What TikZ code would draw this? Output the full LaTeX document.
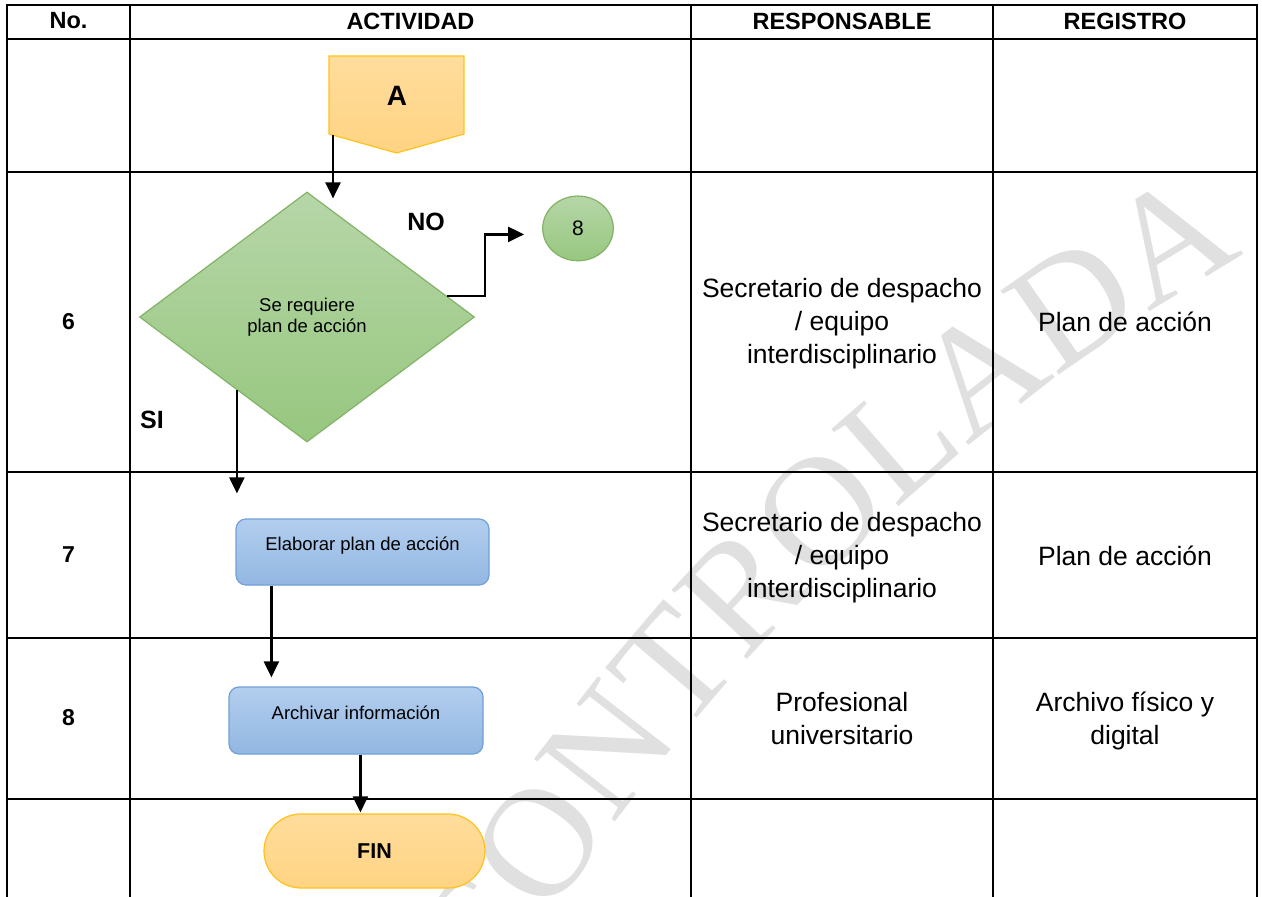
\documentclass[tikz,border=0pt]{standalone}
\usepackage{fontspec}
\setmainfont{Liberation Sans}
\newfontfamily\wmfont{Liberation Serif}
\usetikzlibrary{arrows.meta,shapes.geometric,calc,decorations.text}
\definecolor{orTop}{HTML}{FFDD9C}
\definecolor{orBot}{HTML}{FFD383}
\definecolor{orLine}{HTML}{FFC21A}
\definecolor{grTop}{HTML}{B6D6A8}
\definecolor{grBot}{HTML}{97C77F}
\definecolor{grLine}{HTML}{82B366}
\definecolor{blTop}{HTML}{B3CEEE}
\definecolor{blBot}{HTML}{92B7E2}
\definecolor{blLine}{HTML}{70A0D8}
\definecolor{wm}{HTML}{E0E0E0}
\tikzset{
  tbl/.style={line width=2.3pt, black, line cap=rect},
  arr/.style={line width=2.2pt, black, -{Triangle[length=16pt,width=15pt]}},
  hdr/.style={font=\fontsize{23.5}{23.5}\selectfont\bfseries, inner sep=0pt},
  num/.style={font=\fontsize{23}{23}\selectfont\bfseries, inner sep=0pt},
  body/.style={font=\fontsize{26.5}{33}\selectfont, align=center, inner sep=0pt},
  lbl/.style={font=\fontsize{25}{25}\selectfont\bfseries, inner sep=0pt},
  orshade/.style={top color=orTop, bottom color=orBot, draw=orLine, line width=1.2pt},
  grshade/.style={top color=grTop, bottom color=grBot, draw=grLine, line width=1.2pt},
  blbox/.style={top color=blTop, bottom color=blBot, draw=blLine, line width=1.2pt,
    rounded corners=10pt, inner sep=0pt, font=\fontsize{18.5}{21}\selectfont,
    text height=14pt, text depth=16.6pt},
}
\begin{document}
\begin{tikzpicture}[x=1pt,y=-1pt]
\useasboundingbox (0,0) rectangle (1262,897);
\clip (0,0) rectangle (1262,897);
\fill[white] (0,0) rectangle (1262,897);
% watermark
\path[decorate, decoration={text along path, text align=right,
  text={|\wmfont\fontsize{156}{156}\selectfont\color{wm}|CONTROLADA}}]
  (440,1100) .. controls (640,730) and (920,440) .. (1245,255);
% table
\foreach \y in {5,39,172,472,638,799} \draw[tbl] (7,\y) -- (1257,\y);
\foreach \x in {7,130,691,993,1257} \draw[tbl] (\x,5) -- (\x,897);
% headers
\node[hdr] (hNo) at (68.5,21) {No.};
\node[hdr] (hAct) at (410.5,21) {ACTIVIDAD};
\node[hdr] (hResp) at (842,21) {RESPONSABLE};
\node[hdr] (hReg) at (1125,21) {REGISTRO};
% numbers
\node[num] (n6) at (68.5,322) {6};
\node[num] (n7) at (68.5,555) {7};
\node[num] (n8) at (68.5,718) {8};
% responsable
\node[body] (r6) at (842,324) {Secretario de despacho\\/ equipo\\interdisciplinario};
\node[body] (r7) at (842,558) {Secretario de despacho\\/ equipo\\interdisciplinario};
\node[body] (r8) at (842,718.6) {Profesional\\universitario};
% registro
\node[body] (g6) at (1125,322) {Plan de acción};
\node[body] (g7) at (1125,555.5) {Plan de acción};
\node[body] (g8) at (1125,721) {Archivo físico y\\digital};
% off-page connector A
\path[orshade] (329,56) -- (464,56) -- (464,134) -- (396.5,153) -- (329,134) -- cycle;
\node[font=\fontsize{28}{28}\selectfont\bfseries, inner sep=0pt] (A) at (397,96) {A};
% decision
\node[grshade, shape=diamond, minimum width=335pt, minimum height=250pt, inner sep=0pt,
  align=center, font=\fontsize{18.5}{21}\selectfont] (dia) at (307,317) {Se requiere\\plan de acción};
% connector 8
\node[grshade, shape=ellipse, minimum width=70.6pt, minimum height=64.7pt, inner sep=0pt,
  font=\fontsize{21}{21}\selectfont] (c8) at (578,228.4) {8};
% process boxes
\node[blbox, minimum width=253pt, minimum height=66pt] (elab) at (362.5,552) {Elaborar plan de acción};
\node[blbox, minimum width=254pt, minimum height=67pt] (arch) at (356,720.5) {Archivar información};
% end
\node[orshade, rounded corners=37pt, minimum width=221pt, minimum height=74pt, inner sep=0pt,
  font=\fontsize{21.5}{21.5}\selectfont\bfseries] (fin) at (374.5,851) {FIN};
% labels
\node[lbl] (no) at (426,221.5) {NO};
\node[lbl] (si) at (152,420) {SI};
% connectors
\coordinate (aStart) at ($(A)+(-64,39)$);
\coordinate (aEnd) at ($(dia.north)+(26,7)$);
\draw[arr] (aStart) -- (aStart |- aEnd);
\coordinate (noStart) at ($(dia.north)!0.832!(dia.east)$);
\coordinate (noEnd) at ($(c8.west)+(-18,6)$);
\draw[arr] (noStart) -| ($(noEnd)+(-39,0)$) -- (noEnd);
\coordinate (siStart) at ($(dia.west)!0.583!(dia.south)$);
\coordinate (siEnd) at ($(elab.north west)+(0,-25)$);
\draw[arr] (siStart) -- (siStart |- siEnd);
\coordinate (eStart) at ($(elab.south west)+(36,0)$);
\coordinate (eEnd) at ($(arch.north west)+(0,-9)$);
\draw[arr] (eStart) -- (eStart |- eEnd);
\coordinate (fStart) at ($(arch.south west)+(132,0)$);
\draw[arr] (fStart) -- ($(fStart |- fin.north)+(0,-1)$);
\end{tikzpicture}
\end{document}
